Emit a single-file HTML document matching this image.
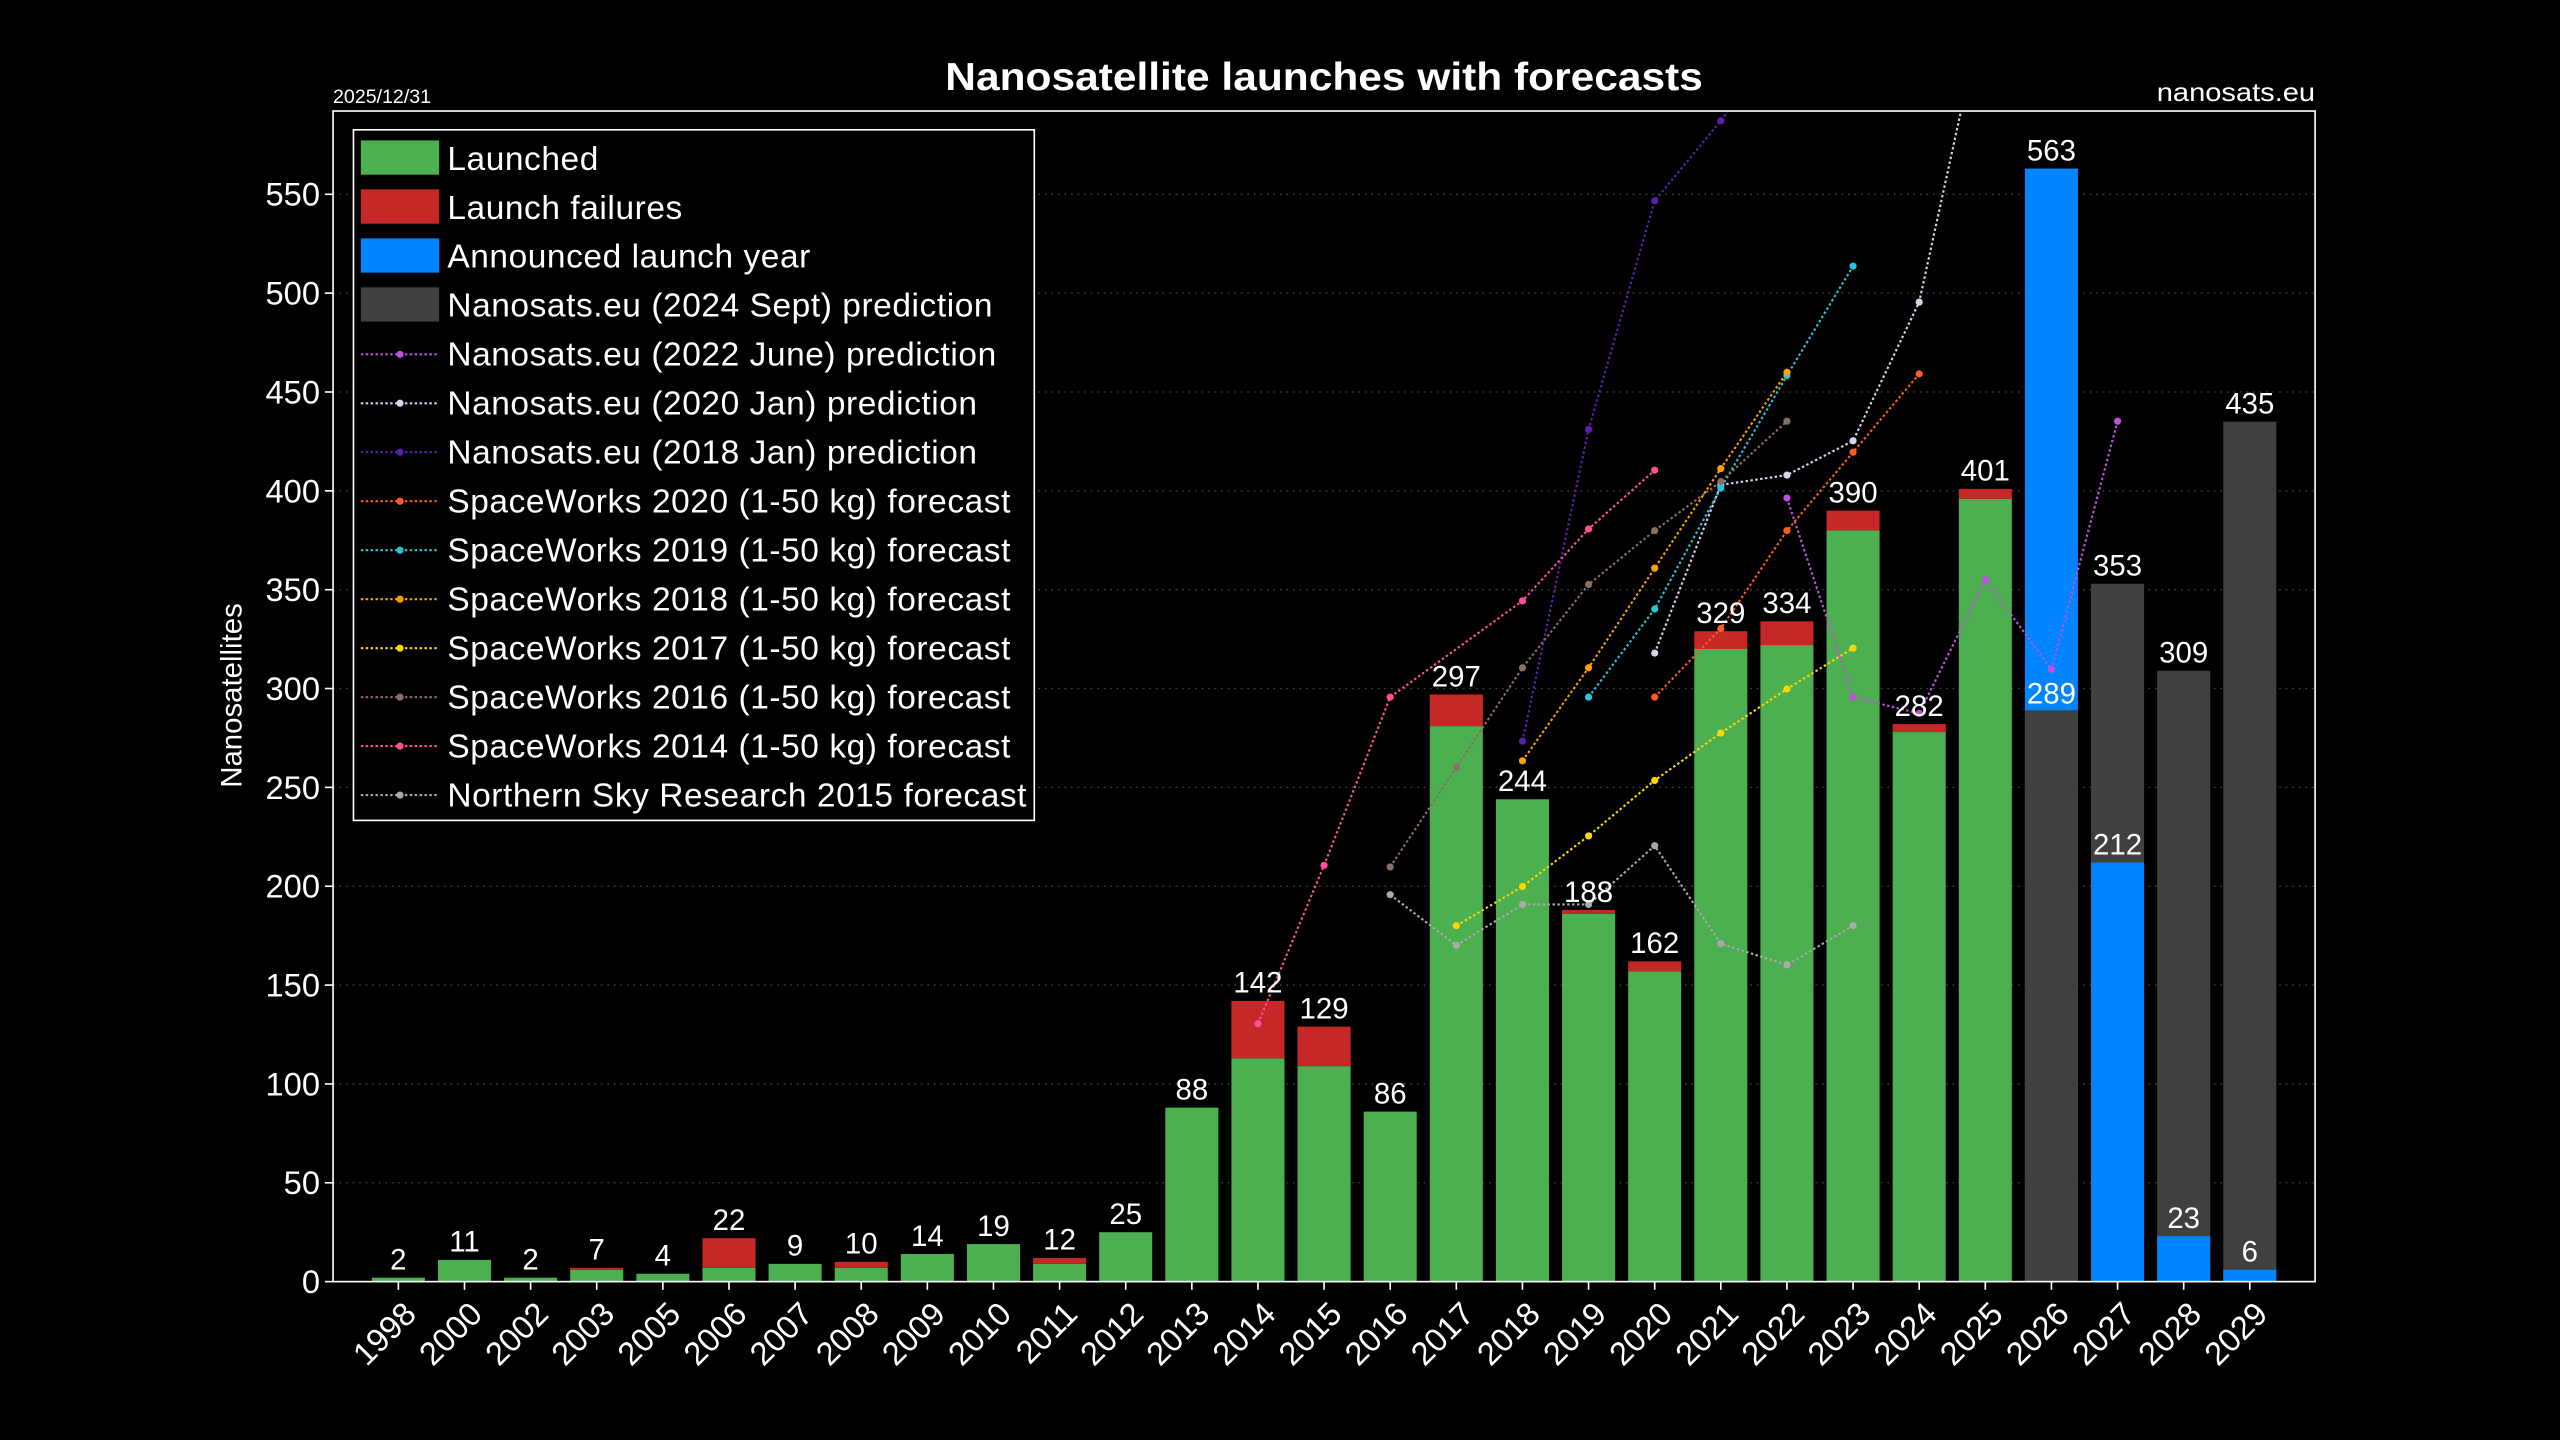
<!DOCTYPE html>
<html><head><meta charset="utf-8"><style>
html,body{margin:0;padding:0;background:#000;}
svg{display:block;font-family:"Liberation Sans",Arial,sans-serif;}
</style></head><body>
<svg id="s" width="2560" height="1440" viewBox="0 0 1568 882" xmlns="http://www.w3.org/2000/svg">
<rect width="1568" height="882" fill="#000"/>
<defs><clipPath id="c"><rect x="204" y="68" width="1214" height="717"/></clipPath></defs>
<g id="grid"></g>
<g id="bars"></g>
<g id="lines" clip-path="url(#c)"></g>
<g id="labels"></g>
<rect x="204" y="68" width="1214" height="717" fill="none" stroke="#fff" stroke-width="1"/>
<text x="811" y="55" fill="#fff" font-size="24" font-weight="bold" text-anchor="middle" textLength="464" lengthAdjust="spacingAndGlyphs">Nanosatellite launches with forecasts</text>
<text x="204" y="63" fill="#fff" font-size="12">2025/12/31</text>
<text x="1418" y="62" fill="#fff" font-size="16" text-anchor="end" textLength="97" lengthAdjust="spacingAndGlyphs">nanosats.eu</text>
<text transform="translate(148,426) rotate(-90)" fill="#fff" font-size="18" text-anchor="middle">Nanosatellites</text>
<g id="legend"></g>
</svg>
<script>
const NS="http://www.w3.org/2000/svg";
function el(p,t,a,txt){const e=document.createElementNS(NS,t);for(const k in a)e.setAttribute(k,a[k]);if(txt!==undefined)e.textContent=txt;document.getElementById(p).appendChild(e);return e;}
const Y=v=>785-1.2109*v;
const X=i=>244+40.5*i;
for(let v=0;v<=550;v+=50){
 if(v>0) el('grid','line',{x1:204,x2:1418,y1:Y(v),y2:Y(v),stroke:'#444','stroke-width':0.8,'stroke-dasharray':'1 3'});
 el('labels','line',{x1:199,x2:204,y1:Y(v),y2:Y(v),stroke:'#fff'});
 el('labels','text',{x:196,y:Y(v)+7,fill:'#fff','font-size':20,'text-anchor':'end'},v);
}
const years=[1998,2000,2002,2003,2005];for(let y=2006;y<=2029;y++)years.push(y);
const data=[[2,0],[11,0],[2,0],[7,1],[4,0],[22,15],[9,0],[10,3],[14,0],[19,0],[12,3],[25,0],[88,0],[142,29],[129,20],[86,0],[297,16],[244,0],[188,2],[162,5],[329,9],[334,12],[390,10],[282,4],[401,5]];
const W=32.5;
data.forEach((d,i)=>{const x=X(i)-W/2;const g=d[0]-d[1];
 el('bars','rect',{x:x,y:Y(g),width:W,height:785-Y(g),fill:'#4caf50'});
 if(d[1]>0) el('bars','rect',{x:x,y:Y(d[0]),width:W,height:Y(g)-Y(d[0]),fill:'#c62828'});
 el('labels','text',{x:X(i),y:Y(d[0])-5,fill:'#fff','font-size':18,'text-anchor':'middle'},d[0]);
});
const fut=[[289,563],[353,212],[309,23],[435,6]];
fut.forEach((d,j)=>{const i=25+j,x=X(i)-W/2;
 const gr=d[0],bl=d[1];
 if(bl>gr){el('bars','rect',{x:x,y:Y(bl),width:W,height:785-Y(bl),fill:'#0084ff'});el('bars','rect',{x:x,y:Y(gr),width:W,height:785-Y(gr),fill:'#404040'});
  el('labels','text',{x:X(i),y:Y(bl)-5,fill:'#fff','font-size':18,'text-anchor':'middle'},bl);
  el('labels','text',{x:X(i),y:Y(gr)-4,fill:'#fff','font-size':18,'text-anchor':'middle'},gr);}
 else{el('bars','rect',{x:x,y:Y(gr),width:W,height:785-Y(gr),fill:'#404040'});el('bars','rect',{x:x,y:Y(bl),width:W,height:785-Y(bl),fill:'#0084ff'});
  el('labels','text',{x:X(i),y:Y(gr)-5,fill:'#fff','font-size':18,'text-anchor':'middle'},gr);
  el('labels','text',{x:X(i),y:Y(bl)-5,fill:'#fff','font-size':18,'text-anchor':'middle'},bl);}
});
years.forEach((y,i)=>{el('labels','line',{x1:X(i),x2:X(i),y1:785,y2:790,stroke:'#fff'});
 el('labels','text',{x:X(i)+12,y:806,fill:'#fff','font-size':20,'text-anchor':'end',transform:`rotate(-45 ${X(i)+12} 806)`},y);});
const ix=y=>years.indexOf(y);
const series=[
 ['#c050e0',[[2022,305],[2023,427],[2024,437],[2025,355],[2026,410],[2027,258]],'Nanosats.eu (2022 June) prediction'],
 ['#ddd0ee',[[2020,400],[2021,297],[2022,291],[2023,270],[2024,185],[2025,0],[2026,-200]],'Nanosats.eu (2020 Jan) prediction'],
 ['#5a1fb0',[[2018,454],[2019,263],[2020,123],[2021,74],[2022,20],[2023,-50]],'Nanosats.eu (2018 Jan) prediction'],
 ['#ff5a1f',[[2020,427],[2021,385],[2022,325],[2023,277],[2024,229]],'SpaceWorks 2020 (1-50 kg) forecast'],
 ['#26c6da',[[2019,427],[2020,373],[2021,299],[2022,230],[2023,163]],'SpaceWorks 2019 (1-50 kg) forecast'],
 ['#ffa000',[[2018,466],[2019,409],[2020,348],[2021,287],[2022,228]],'SpaceWorks 2018 (1-50 kg) forecast'],
 ['#ffd600',[[2017,567],[2018,543],[2019,512],[2020,478],[2021,449],[2022,422],[2023,397]],'SpaceWorks 2017 (1-50 kg) forecast'],
 ['#8d6e63',[[2016,531],[2017,470],[2018,409],[2019,358],[2020,325],[2021,295],[2022,258]],'SpaceWorks 2016 (1-50 kg) forecast'],
 ['#ff4f9a',[[2014,627],[2015,530],[2016,427],[2018,368],[2019,324],[2020,288]],'SpaceWorks 2014 (1-50 kg) forecast'],
 ['#aaaaaa',[[2016,548],[2017,579],[2018,554],[2019,554],[2020,518],[2021,578],[2022,591],[2023,567]],'Northern Sky Research 2015 forecast']
];
series.forEach(s=>{const pts=s[1].map(p=>[X(ix(p[0])),p[1]]);
 el('lines','polyline',{points:pts.map(p=>p.join(',')).join(' '),fill:'none',stroke:s[0],'stroke-width':1.3,'stroke-dasharray':'1.5 1.5'});
 pts.forEach(p=>el('lines','circle',{cx:p[0],cy:p[1],r:2.2,fill:s[0]}));});
el('legend','rect',{x:216.5,y:79.5,width:417,height:423,fill:'#000',stroke:'#fff','stroke-width':1});
const leg=[['#4caf50','Launched',1],['#c62828','Launch failures',1],['#0084ff','Announced launch year',1],['#404040','Nanosats.eu (2024 Sept) prediction',1]];
series.forEach(s=>leg.push([s[0],s[2],0]));
leg.forEach((l,k)=>{const cy=97+30*k;
 if(l[2]) el('legend','rect',{x:221,y:cy-11,width:48,height:21,fill:l[0]});
 else{el('legend','line',{x1:221,x2:269,y1:cy,y2:cy,stroke:l[0],'stroke-width':1.3,'stroke-dasharray':'1.5 1.5'});el('legend','circle',{cx:245,cy:cy,r:2.2,fill:l[0]});}
 el('legend','text',{x:274,y:cy+7,fill:'#fff','font-size':20.5,'letter-spacing':0.35},l[1]);});
</script>
</body></html>
